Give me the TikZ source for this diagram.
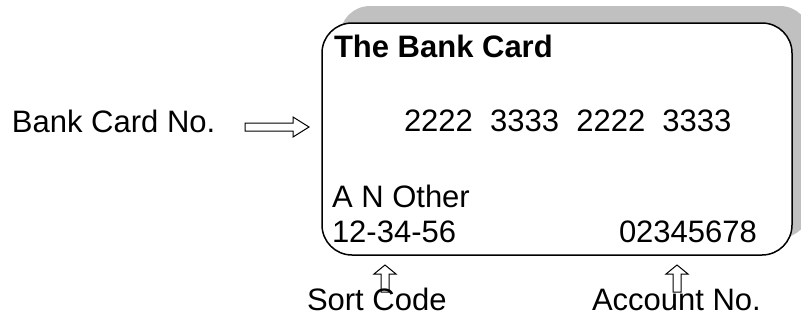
\documentclass[tikz,border=0pt]{standalone}
\usepackage{fontspec}
\setmainfont{Liberation Sans}
\definecolor{shadowgrey}{RGB}{192,192,192}
\begin{document}
\begin{tikzpicture}[x=1pt,y=-1pt,
  label/.style={inner sep=0pt, outer sep=0pt, anchor=base west,
                font=\fontsize{31}{36}\selectfont},
  cardbox/.style={rectangle, rounded corners=30pt, inner sep=0pt,
                  minimum width=470pt, minimum height=232pt},
  blockarrow/.style={draw=black, line width=1pt, line join=miter}]
\useasboundingbox (0,0) rectangle (801,322);

% card with its offset shadow
\node[cardbox, fill=shadowgrey] (shadow) at (575,122) {};
\node[cardbox, fill=white, draw=black, line width=1.5pt] (card) at (557,139) {};

% texts on the card
\node[label, font=\fontsize{31}{36}\selectfont\bfseries] (title) at (334,57) {The Bank Card};
\node[label] (number) at (404,131) {2222~~3333~~2222~~3333};
\node[label] (holder) at (332,207) {A N Other};
\node[label] (sort) at (332,242) {12-34-56};
\node[label] (account) at (619,242) {02345678};

% captions outside the card
\node[label] (cardno) at (12,132) {Bank Card No.};
\node[label] (sortcap) at (307,310) {Sort Code};
\node[label] (acccap) at (592,310) {Account No.};

% hollow block arrows
\draw[blockarrow] (245,123) -- (293,123) -- (293,117) -- (309,127)
  -- (293,137) -- (293,131) -- (245,131) -- cycle;
\draw[blockarrow] (381,292) -- (381,274) -- (374,274) -- (385,265)
  -- (396,274) -- (389,274) -- (389,292) -- cycle;
\draw[blockarrow] (673,292) -- (673,274) -- (666,274) -- (677,265)
  -- (688,274) -- (681,274) -- (681,292) -- cycle;
\end{tikzpicture}
\end{document}
